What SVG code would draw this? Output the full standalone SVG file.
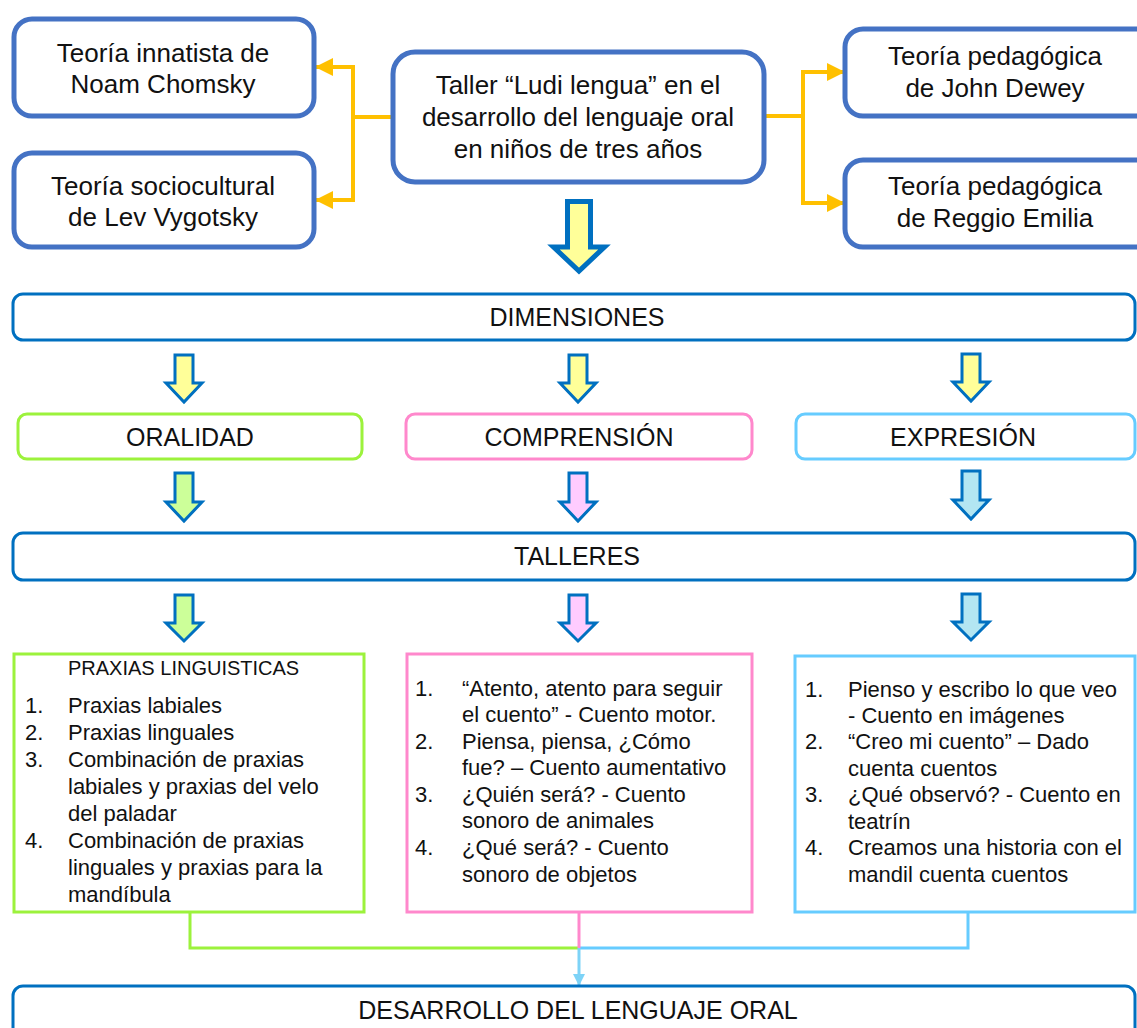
<svg xmlns="http://www.w3.org/2000/svg" width="1137" height="1028" viewBox="0 0 1137 1028">
<defs>
<marker id="ya" markerUnits="userSpaceOnUse" viewBox="0 0 18 18" markerWidth="18" markerHeight="18" refX="17" refY="9" orient="auto"><path d="M0,0 L18,9 L0,18 Z" fill="#FFC000"/></marker>
<marker id="ba" markerUnits="userSpaceOnUse" viewBox="0 0 12 12" markerWidth="12" markerHeight="12" refX="11" refY="6" orient="auto"><path d="M0,0 L12,6 L0,12 Z" fill="#7DD3F7"/></marker>
</defs>
<style>
text{font-family:"Liberation Sans",Arial,sans-serif;fill:#111;}
.t26{font-size:26px;text-anchor:middle;}
.t25{font-size:25px;text-anchor:middle;}
.t22{font-size:22px;}
.t20{font-size:20px;}
.theory{fill:#fff;stroke:#4472C4;stroke-width:5;}
.band{fill:#fff;stroke:#0070C0;stroke-width:3;}
.g{stroke:#9CF23C;}
.p{stroke:#FF88CC;}
.b{stroke:#66CCFF;}
.dim{fill:#fff;stroke-width:3;}
.arr{stroke:#0070C0;stroke-width:3;stroke-linejoin:miter;}
.y{fill:#FFFF99;}
.gf{fill:#CCFF99;}
.pf{fill:#FFCCFF;}
.bf{fill:#B3E6F2;}
.con{fill:none;stroke-width:4;stroke:#FFC000;}
.lc{fill:none;stroke-width:3;}
</style>

<g id="connectors">
<path class="con" d="M392,117 H353"/>
<path class="con" d="M353,117 V67 H316" marker-end="url(#ya)"/>
<path class="con" d="M353,117 V200 H316" marker-end="url(#ya)"/>
<path class="con" d="M765,116 H803"/>
<path class="con" d="M803,116 V72 H844" marker-end="url(#ya)"/>
<path class="con" d="M803,116 V203 H844" marker-end="url(#ya)"/>
<path class="lc g" d="M190,912 V948 H579"/>
<path class="lc b" d="M968,912 V948 H579"/>
<path class="lc p" d="M579,912 V948"/>
<path class="lc" stroke="#7DD3F7" d="M579,948 V985" marker-end="url(#ba)"/>
</g>

<g id="node-chomsky">
<rect class="theory" x="14" y="19" width="300" height="97" rx="18"/>
<text class="t26" x="163" y="62">Teoría innatista de</text>
<text class="t26" x="163" y="93">Noam Chomsky</text>
</g>
<g id="node-vygotsky">
<rect class="theory" x="14" y="153" width="300" height="94" rx="18"/>
<text class="t26" x="163" y="195">Teoría sociocultural</text>
<text class="t26" x="163" y="226">de Lev Vygotsky</text>
</g>
<g id="node-taller">
<rect class="theory" x="393" y="52" width="371" height="130" rx="22"/>
<text class="t26" x="578" y="94">Taller “Ludi lengua” en el</text>
<text class="t26" x="578" y="126">desarrollo del lenguaje oral</text>
<text class="t26" x="578" y="158">en niños de tres años</text>
</g>
<g id="node-dewey">
<rect class="theory" x="845" y="29" width="310" height="87" rx="18"/>
<text class="t26" x="995" y="65">Teoría pedagógica</text>
<text class="t26" x="995" y="97">de John Dewey</text>
</g>
<g id="node-reggio">
<rect class="theory" x="845" y="160" width="310" height="87" rx="18"/>
<text class="t26" x="995" y="195">Teoría pedagógica</text>
<text class="t26" x="995" y="227">de Reggio Emilia</text>
</g>

<g id="arrow-main">
<path d="M567.5,201.5 H590.5 V247 H604.5 L579,271 L553.5,247 H567.5 Z" fill="#FFFF99" stroke="#0070C0" stroke-width="5"/>
</g>

<g id="node-dimensiones">
<rect class="band" x="13" y="294" width="1122" height="46" rx="10"/>
<text class="t25" x="577" y="326">DIMENSIONES</text>
</g>

<g id="arrows-row1">
<path class="arr y" d="M175,355 H193 V383 H202 L184,402 L166,383 H175 Z"/>
<path class="arr y" d="M569,355 H587 V383 H596 L578,402 L560,383 H569 Z"/>
<path class="arr y" d="M962,354 H980 V382 H989 L971,401 L953,382 H962 Z"/>
</g>

<g id="node-oralidad">
<rect class="dim g" x="18" y="414" width="344" height="45" rx="9"/>
<text class="t25" x="190" y="446">ORALIDAD</text>
</g>
<g id="node-comprension">
<rect class="dim p" x="406" y="414" width="346" height="45" rx="9"/>
<text class="t25" x="579" y="446">COMPRENSIÓN</text>
</g>
<g id="node-expresion">
<rect class="dim b" x="796" y="414" width="339" height="45" rx="9"/>
<text class="t25" x="963" y="446">EXPRESIÓN</text>
</g>

<g id="arrows-row2">
<path class="arr gf" d="M175,473 H193 V502 H202 L184,521 L166,502 H175 Z"/>
<path class="arr pf" d="M569,473 H587 V502 H596 L578,521 L560,502 H569 Z"/>
<path class="arr bf" d="M962,471 H980 V500 H989 L971,519 L953,500 H962 Z"/>
</g>

<g id="node-talleres">
<rect class="band" x="13" y="533" width="1122" height="47" rx="10"/>
<text class="t25" x="577" y="565">TALLERES</text>
</g>

<g id="arrows-row3">
<path class="arr gf" d="M175,595 H193 V623 H202 L184,641 L166,623 H175 Z"/>
<path class="arr pf" d="M569,595 H587 V623 H596 L578,641 L560,623 H569 Z"/>
<path class="arr bf" d="M962,594 H980 V622 H989 L971,640 L953,622 H962 Z"/>
</g>

<g id="node-praxias">
<rect class="dim g" x="14" y="654" width="350" height="258"/>
<text class="t20" x="68" y="675">PRAXIAS LINGUISTICAS</text>
<g class="t22">
<text x="25" y="713">1.</text><text x="68" y="713">Praxias labiales</text>
<text x="25" y="740">2.</text><text x="68" y="740">Praxias linguales</text>
<text x="25" y="767">3.</text><text x="68" y="767">Combinación de praxias</text>
<text x="68" y="794">labiales y praxias del velo</text>
<text x="68" y="821">del paladar</text>
<text x="25" y="848">4.</text><text x="68" y="848">Combinación de praxias</text>
<text x="68" y="875">linguales y praxias para la</text>
<text x="68" y="902">mandíbula</text>
</g>
</g>

<g id="node-cuentos-comprension">
<rect class="dim p" x="407" y="654" width="345" height="258"/>
<g class="t22">
<text x="415" y="696">1.</text><text x="462" y="696">“Atento, atento para seguir</text>
<text x="462" y="722">el cuento” - Cuento motor.</text>
<text x="415" y="749">2.</text><text x="462" y="749">Piensa, piensa, ¿Cómo</text>
<text x="462" y="775">fue? – Cuento aumentativo</text>
<text x="415" y="802">3.</text><text x="462" y="802">¿Quién será? - Cuento</text>
<text x="462" y="828">sonoro de animales</text>
<text x="415" y="855">4.</text><text x="462" y="855">¿Qué será? - Cuento</text>
<text x="462" y="882">sonoro de objetos</text>
</g>
</g>

<g id="node-cuentos-expresion">
<rect class="dim b" x="795" y="656" width="340" height="256"/>
<g class="t22">
<text x="805" y="697">1.</text><text x="848" y="697">Pienso y escribo lo que veo</text>
<text x="848" y="723">- Cuento en imágenes</text>
<text x="805" y="749">2.</text><text x="848" y="749">“Creo mi cuento” – Dado</text>
<text x="848" y="776">cuenta cuentos</text>
<text x="805" y="802">3.</text><text x="848" y="802">¿Qué observó? - Cuento en</text>
<text x="848" y="829">teatrín</text>
<text x="805" y="855">4.</text><text x="848" y="855">Creamos una historia con el</text>
<text x="848" y="882">mandil cuenta cuentos</text>
</g>
</g>

<g id="node-desarrollo">
<rect class="band" x="13" y="986" width="1122" height="60" rx="10"/>
<text class="t25" x="578" y="1019">DESARROLLO DEL LENGUAJE ORAL</text>
</g>
</svg>
